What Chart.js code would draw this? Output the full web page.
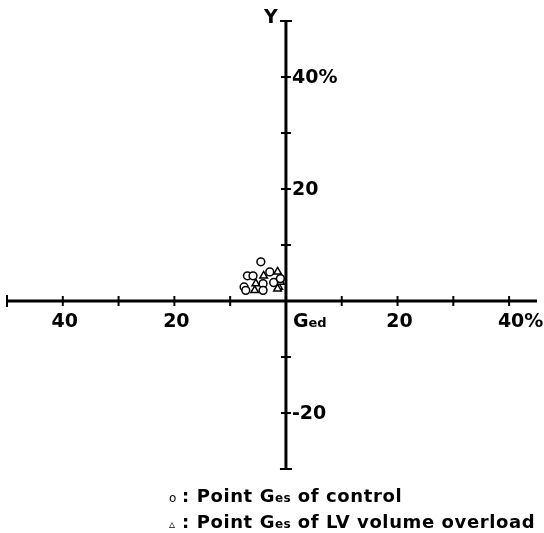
<!DOCTYPE html>
<html>
<head>
<meta charset="utf-8">
<script src="https://cdn.jsdelivr.net/npm/chart.js"></script>
<style>
  body { margin: 0; background: #fff; }
  .wrap { position: relative; width: 544px; height: 533px; }
  .legend {
    position: absolute; left: 169px; top: 484px;
    font: bold 18px "DejaVu Sans", sans-serif; color: #000;
    letter-spacing: 0.6px; line-height: 24px; white-space: nowrap;
  }
  .legend .mk { display: inline-block; width: 13px; font-size: 12px; font-weight: normal; letter-spacing: 0; }
  .legend .sub { font-size: 12px; letter-spacing: 0.3px; }
</style>
</head>
<body>
<div class="wrap">
  <canvas id="chart"></canvas>
  <div class="legend">
    <div><span class="mk">o</span>: Point G<span class="sub">es</span> of control</div>
    <div><span class="mk">&#9653;</span>: Point G<span class="sub">es</span> of LV volume overload</div>
  </div>
</div>
<script>
// control group (circles)
const controlX = [-4.5, -6.9, -5.9, -2.9, -7.5, -4.1, -7.2, -4.1, -2.2, -1.0];
const controlY = [7.0, 4.5, 4.5, 5.2, 2.5, 3.1, 1.9, 1.9, 3.3, 4.0];
// LV volume overload (triangles)
const overloadX = [-4.0, -1.5, -5.4, -5.6, -1.8, -1.3, -1.0, -1.5];
const overloadY = [4.5, 5.2, 3.1, 1.9, 3.1, 2.5, 3.4, 2.2];

const xTicks = [-40, -30, -20, -10, 10, 20, 30, 40];
const yTicks = [-20, -10, 10, 20, 30, 40];
const xLabelValues = [-40, -20, 20, 40];
const xLabelTexts = ['40', '20', '20', '40%'];
const yLabelValues = [-20, 20, 40];
const yLabelTexts = ['-20', '20', '40%'];

const toPoints = (xs, ys) => xs.map((v, i) => ({ x: v, y: ys[i] }));

const crossAxes = {
  id: 'crossAxes',
  beforeDatasetsDraw(chart) {
    const { ctx, scales: { x, y } } = chart;
    const x0 = x.getPixelForValue(0);
    const y0 = y.getPixelForValue(0);
    const seg = (a, b, c, d) => { ctx.beginPath(); ctx.moveTo(a, b); ctx.lineTo(c, d); ctx.stroke(); };
    ctx.save();
    ctx.strokeStyle = '#000';
    ctx.lineWidth = 3;
    seg(x.getPixelForValue(x.min), y0, x.getPixelForValue(x.max), y0);
    seg(x0, y.getPixelForValue(y.max), x0, y.getPixelForValue(y.min));

    ctx.lineWidth = 2;
    // end caps
    const xl = x.getPixelForValue(x.min);
    seg(xl, y0 - 6, xl, y0 + 6);
    seg(x0 - 6, y.getPixelForValue(y.max), x0 + 6, y.getPixelForValue(y.max));
    seg(x0 - 6, y.getPixelForValue(y.min), x0 + 6, y.getPixelForValue(y.min));
    // tick crosses
    xTicks.forEach(v => { const p = x.getPixelForValue(v); seg(p, y0 - 5, p, y0 + 5); });
    yTicks.forEach(v => { const p = y.getPixelForValue(v); seg(x0 - 5, p, x0 + 5, p); });

    ctx.fillStyle = '#000';
    ctx.font = 'bold 19px "DejaVu Sans"';
    ctx.textBaseline = 'middle';
    ctx.textAlign = 'left';
    xLabelValues.forEach((v, i) => {
      const w = ctx.measureText(xLabelTexts[i].replace('%', '')).width;
      ctx.fillText(xLabelTexts[i], x.getPixelForValue(v) - w / 2 + 2, y0 + 21);
    });
    yLabelValues.forEach((v, i) => {
      ctx.fillText(yLabelTexts[i], x0 + 6, y.getPixelForValue(v) + 1);
    });
    // axis names
    ctx.textAlign = 'center';
    ctx.fillText('Y', x0 - 15, y.getPixelForValue(y.max) - 3);
    ctx.textAlign = 'left';
    ctx.fillText('G', x0 + 7, y0 + 21);
    const gw = ctx.measureText('G').width;
    ctx.font = 'bold 13px "DejaVu Sans"';
    ctx.fillText('ed', x0 + 7 + gw, y0 + 23);
    ctx.restore();
  }
};

new Chart(document.getElementById('chart'), {
  type: 'scatter',
  data: {
    datasets: [
      {
        label: 'Point Ges of control',
        data: toPoints(controlX, controlY),
        pointStyle: 'circle',
        pointRadius: 3.9,
        borderColor: '#000',
        borderWidth: 1.5,
        backgroundColor: '#fff'
      },
      {
        label: 'Point Ges of LV volume overload',
        data: toPoints(overloadX, overloadY),
        pointStyle: 'triangle',
        pointRadius: 4.4,
        borderColor: '#000',
        borderWidth: 1.5,
        backgroundColor: '#fff'
      }
    ]
  },
  options: {
    responsive: true,
    maintainAspectRatio: false,
    animation: false,
    layout: { padding: { left: 7, right: 7, top: 21, bottom: 64 } },
    plugins: {
      legend: { display: false },
      tooltip: { enabled: false }
    },
    scales: {
      x: { type: 'linear', min: -50, max: 45, display: false },
      y: { type: 'linear', min: -30, max: 50, display: false }
    }
  },
  plugins: [crossAxes]
});
</script>
</body>
</html>
